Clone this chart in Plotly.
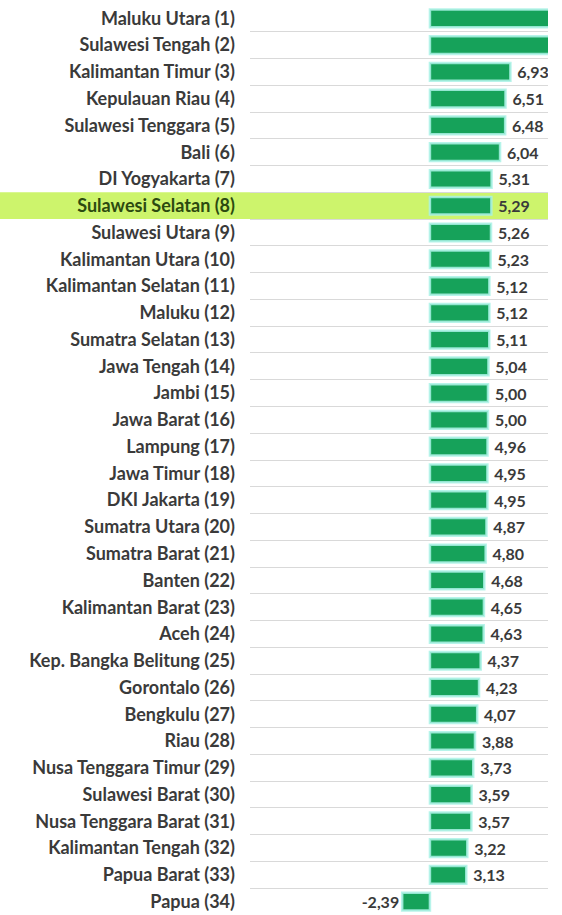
import plotly.graph_objects as go

provinces = [
    "Maluku Utara (1)", "Sulawesi Tengah (2)", "Kalimantan Timur (3)", "Kepulauan Riau (4)",
    "Sulawesi Tenggara (5)", "Bali (6)", "DI Yogyakarta (7)", "Sulawesi Selatan (8)",
    "Sulawesi Utara (9)", "Kalimantan Utara (10)", "Kalimantan Selatan (11)", "Maluku (12)",
    "Sumatra Selatan (13)", "Jawa Tengah (14)", "Jambi (15)", "Jawa Barat (16)",
    "Lampung (17)", "Jawa Timur (18)", "DKI Jakarta (19)", "Sumatra Utara (20)",
    "Sumatra Barat (21)", "Banten (22)", "Kalimantan Barat (23)", "Aceh (24)",
    "Kep. Bangka Belitung (25)", "Gorontalo (26)", "Bengkulu (27)", "Riau (28)",
    "Nusa Tenggara Timur (29)", "Sulawesi Barat (30)", "Nusa Tenggara Barat (31)",
    "Kalimantan Tengah (32)", "Papua Barat (33)", "Papua (34)",
]
# first two values are cut off in the picture (estimated)
growth = [
    22.94, 15.17, 6.93, 6.51, 6.48, 6.04, 5.31, 5.29, 5.26, 5.23, 5.12, 5.12, 5.11, 5.04,
    5.00, 5.00, 4.96, 4.95, 4.95, 4.87, 4.80, 4.68, 4.65, 4.63, 4.37, 4.23, 4.07, 3.88,
    3.73, 3.59, 3.57, 3.22, 3.13, -2.39,
]
highlight = "Sulawesi Selatan (8)"

rank = list(range(1, len(provinces) + 1))
ticktext = [
    f"<span style='color:#2c4a10'>{p}</span>" if p == highlight else p for p in provinces
]

W, H = 562, 915
ML, MR, MT, MB = 250, 14, 5, 0
FONT = "Lato"

fig = go.Figure()
fig.add_trace(go.Bar(
    x=growth, y=rank, orientation="h",
    marker=dict(color="#16a25a", line=dict(color="rgba(170,242,230,0.85)", width=2.5)),
    text=growth, texttemplate="\u00a0%{x:.2f}", textposition="outside",
    textfont=dict(family=FONT, size=16, color="#3a3a3a", weight=700),
    cliponaxis=True, constraintext="none",
))

hi = rank[provinces.index(highlight)]
fig.add_shape(type="rect", xref="paper", yref="y", layer="below",
              x0=-ML / (W - ML - MR), x1=1, y0=hi - 0.5, y1=hi + 0.5,
              fillcolor="#cdf46c", line=dict(width=0))

fig.update_layout(
    width=W, height=H, margin=dict(l=ML, r=MR, t=MT, b=MB),
    paper_bgcolor="white", plot_bgcolor="white",
    separators=",.", showlegend=False, bargap=0.34,
    font=dict(family=FONT, color="#3a3a3a"),
)
fig.update_xaxes(range=[-15.5, 10.17], visible=False, showgrid=False, zeroline=False)
fig.update_yaxes(
    range=[len(provinces) + 0.5, 0.5], tickmode="array", tickvals=rank, ticktext=ticktext,
    showgrid=False, zeroline=False, showline=False, automargin=False,
    ticklabelstandoff=14,
    tickfont=dict(family=FONT, size=18, color="#3a3a3a", weight=700),
    minor=dict(tick0=0.5, dtick=1, showgrid=True, gridcolor="#d9d9d9", gridwidth=1),
)

fig.write_html("out.html", config={"displayModeBar": False},
               post_script="document.body.style.margin='0px';")
